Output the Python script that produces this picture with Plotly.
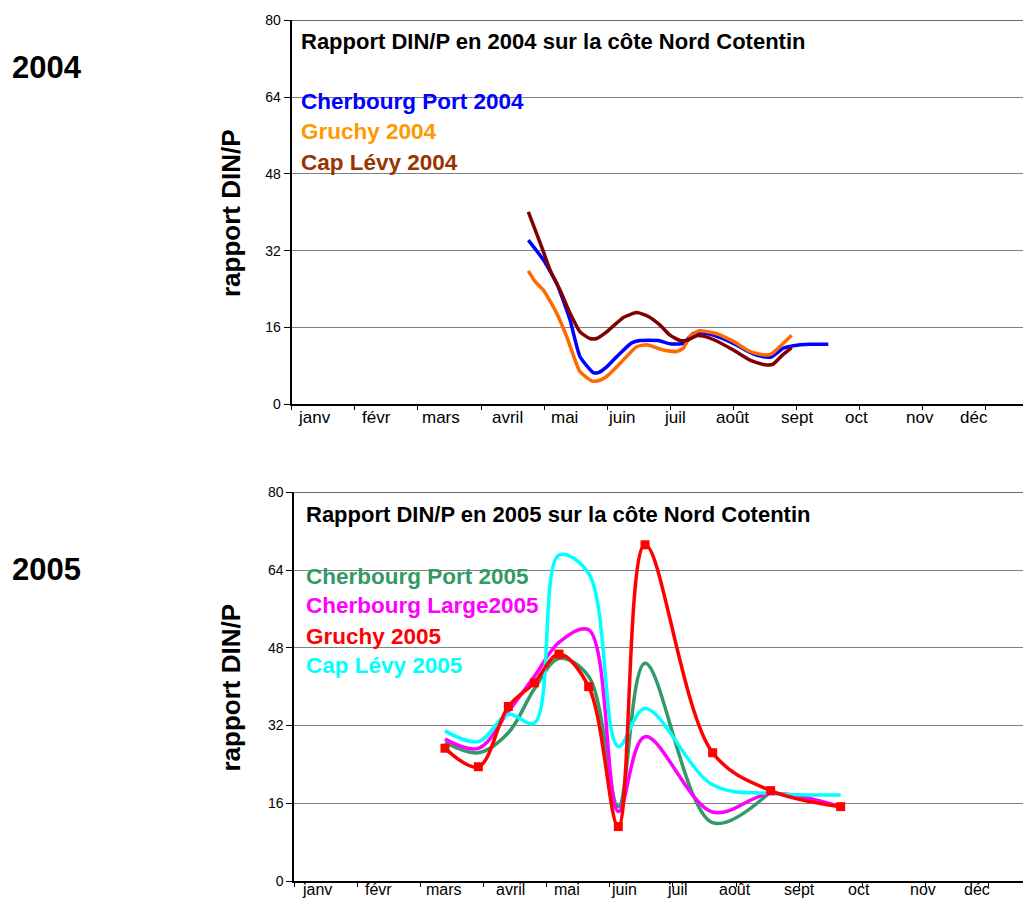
import plotly.graph_objects as go

# ---------------------------------------------------------------
# Data : x = months elapsed since 1 January (0 = janv, 1 = févr ...)
# ---------------------------------------------------------------
months = ["janv", "févr", "mars", "avril", "mai", "juin",
          "juil", "août", "sept", "oct", "nov", "déc"]
y_ticks = [0, 16, 32, 48, 64, 80]

# 2004
port04_x = [3.750, 3.988, 4.199, 4.410, 4.569, 4.780, 4.859, 4.992, 5.203, 5.388,
            5.520, 5.810, 5.995, 6.207, 6.365, 6.497, 6.682, 6.999, 7.263, 7.474,
            7.606, 7.791, 7.950, 8.214, 8.504]
port04_y = [34.2, 30.1, 25.2, 17.6, 9.9, 6.6, 6.6, 7.8, 10.6, 12.8,
            13.3, 13.3, 12.6, 12.7, 14.8, 14.9, 14.4, 12.7, 10.8, 9.9,
            9.9, 11.7, 12.2, 12.5, 12.5]

gruchy04_x = [3.750, 3.856, 3.988, 4.199, 4.358, 4.569, 4.754, 4.859, 4.992, 5.203,
              5.467, 5.625, 5.890, 6.101, 6.207, 6.312, 6.444, 6.735, 6.999, 7.263,
              7.474, 7.606, 7.765, 7.923]
gruchy04_y = [27.8, 25.6, 23.8, 19.0, 14.1, 6.8, 4.9, 4.9, 5.8, 8.5,
              12.0, 12.4, 11.3, 11.0, 11.7, 14.1, 15.3, 14.7, 13.1, 11.0,
              10.3, 10.5, 12.4, 14.4]

levy04_x = [3.750, 3.961, 4.094, 4.252, 4.410, 4.569, 4.727, 4.833, 4.992, 5.256,
            5.467, 5.652, 5.837, 5.995, 6.154, 6.259, 6.418, 6.523, 6.682, 6.999,
            7.263, 7.474, 7.622, 7.765, 7.923]
levy04_y = [40.1, 32.8, 28.0, 23.8, 19.0, 15.1, 13.7, 13.7, 15.1, 18.1,
            19.1, 18.3, 16.5, 14.4, 13.3, 13.3, 14.3, 14.2, 13.5, 11.3,
            9.2, 8.3, 8.3, 10.1, 11.8]

# 2005 : common sampling dates
dates05 = [2.388, 2.917, 3.392, 3.804, 4.195, 4.665, 5.135, 5.558, 6.630, 7.549, 8.659]
port05 = [28.5, 26.4, 30.5, 39.5, 45.8, 42.1, 15.3, 44.8, 12.0, 18.4]
large05 = [29.2, 27.3, 34.9, 42.1, 49.1, 51.7, 14.3, 29.7, 14.2, 18.0, 15.3]
gruchy05 = [27.3, 23.5, 35.9, 40.8, 46.7, 40.0, 11.2, 69.2, 26.4, 18.6, 15.3]
levy05 = [30.9, 28.7, 34.3, 32.5, 67.1, 63.3, 27.7, 35.5, 19.8, 18.0, 17.7]

W, H = 1023, 899
FONT = "Liberation Sans, Arial, sans-serif"


def px_x(p):
    return p / W


def px_y(p):
    return (H - p) / H


fig = go.Figure()

line_w = 3.5
fig.add_trace(go.Scatter(x=port04_x, y=port04_y, mode="lines", xaxis="x", yaxis="y",
                         line=dict(color="#0000FF", width=line_w, shape="spline", smoothing=0.5)))
fig.add_trace(go.Scatter(x=gruchy04_x, y=gruchy04_y, mode="lines", xaxis="x", yaxis="y",
                         line=dict(color="#FF6A00", width=line_w, shape="spline", smoothing=0.5)))
fig.add_trace(go.Scatter(x=levy04_x, y=levy04_y, mode="lines", xaxis="x", yaxis="y",
                         line=dict(color="#800000", width=line_w, shape="spline", smoothing=0.5)))

fig.add_trace(go.Scatter(x=dates05[:len(port05)], y=port05, mode="lines", xaxis="x2", yaxis="y2",
                         line=dict(color="#339966", width=line_w, shape="spline", smoothing=1)))
fig.add_trace(go.Scatter(x=dates05, y=large05, mode="lines", xaxis="x2", yaxis="y2",
                         line=dict(color="#FF00FF", width=line_w, shape="spline", smoothing=1)))
fig.add_trace(go.Scatter(x=dates05, y=levy05, mode="lines", xaxis="x2", yaxis="y2",
                         line=dict(color="#00FFFF", width=line_w, shape="spline", smoothing=1)))
fig.add_trace(go.Scatter(x=dates05, y=gruchy05, mode="lines+markers", xaxis="x2", yaxis="y2",
                         line=dict(color="#FF0000", width=line_w, shape="spline", smoothing=1),
                         marker=dict(symbol="square", size=9, color="#FF0000")))

# Axis geometry (pixels)
top_left, top_bottom, top_top = 291.7, 404.3, 20.3
bot_left, bot_bottom, bot_top = 294.3, 881.0, 492.3
month_px = 63.1

common_x = dict(showgrid=False, zeroline=False, showline=True, linecolor="black", linewidth=2,
                ticks="outside", ticklen=4, tickcolor="black", tickwidth=1,
                tickvals=list(range(12)), showticklabels=False, automargin=False)
common_y = dict(range=[0, 80], tickvals=y_ticks, showgrid=True, gridcolor="#808080", gridwidth=1,
                zeroline=False, showline=True, linecolor="black", linewidth=2,
                ticks="outside", ticklen=6, tickcolor="black", tickwidth=1, automargin=False,
                tickfont=dict(family=FONT, size=14, color="black"))

fig.update_layout(
    width=W, height=H, margin=dict(l=0, r=0, t=0, b=0, autoexpand=False),
    paper_bgcolor="white", plot_bgcolor="white", showlegend=False,
    xaxis=dict(domain=[px_x(top_left), 1], range=[0, (W - top_left) / month_px],
               anchor="y", **common_x),
    yaxis=dict(domain=[px_y(top_bottom), px_y(top_top)], anchor="x", **common_y),
    xaxis2=dict(domain=[px_x(bot_left), 1], range=[0, (W - bot_left) / month_px],
                anchor="y2", **common_x),
    yaxis2=dict(domain=[px_y(bot_bottom), px_y(bot_top)], anchor="x2", **common_y),
)

# thin frame line along the top of each plot area
for xr, yr in (("x domain", "y"), ("x2 domain", "y2")):
    fig.add_shape(type="line", xref=xr, yref=yr, x0=0, x1=1, y0=80, y1=80,
                  line=dict(color="black", width=1))

annotations = []

# month labels under both axes (centres, in months)
label_pos = [0.36, 1.34, 2.37, 3.42, 4.32, 5.23, 6.08, 6.99, 8.00, 8.95, 9.96, 10.82]
for xr, ypix, fsize in (("x", 417, 17), ("x2", 889.5, 16)):
    for name, pos in zip(months, label_pos):
        annotations.append(dict(x=pos, y=px_y(ypix), xref=xr, yref="paper", text=name,
                                showarrow=False, xanchor="center", yanchor="middle",
                                font=dict(family=FONT, size=fsize, color="black")))

# year labels
for txt, ypix in (("2004", 68), ("2005", 569)):
    annotations.append(dict(x=px_x(10), y=px_y(ypix), xref="paper", yref="paper",
                            text="<b>%s</b>" % txt, showarrow=False,
                            xanchor="left", yanchor="middle",
                            font=dict(family=FONT, size=31, color="black")))

# y-axis titles
for ypix in (213.5, 688):
    annotations.append(dict(x=px_x(230.5), y=px_y(ypix), xref="paper", yref="paper",
                            text="<b>rapport DIN/P</b>", textangle=-90, showarrow=False,
                            xanchor="center", yanchor="middle",
                            font=dict(family=FONT, size=26, color="black")))

# chart titles and series captions
blocks = [
    (299.3, [(41.7, "Rapport DIN/P en 2004 sur la côte Nord Cotentin", "black", 22),
             (101.7, "Cherbourg Port 2004", "#0000FF", 22.5),
             (131.7, "Gruchy 2004", "#FF9900", 22.5),
             (162.3, "Cap Lévy 2004", "#993300", 22.5)]),
    (304.0, [(515.0, "Rapport DIN/P en 2005 sur la côte Nord Cotentin", "black", 22),
             (576.0, "Cherbourg Port 2005", "#339966", 22.5),
             (605.3, "Cherbourg Large2005", "#FF00FF", 22.5),
             (636.0, "Gruchy 2005", "#FF0000", 22.5),
             (665.0, "Cap Lévy 2005", "#00FFFF", 22.5)]),
]
for xpix, rows in blocks:
    for ypix, txt, col, size in rows:
        annotations.append(dict(x=px_x(xpix), y=px_y(ypix), xref="paper", yref="paper",
                                text="<b>%s</b>" % txt, showarrow=False,
                                xanchor="left", yanchor="middle",
                                font=dict(family=FONT, size=size, color=col)))

fig.update_layout(annotations=annotations)

fig.write_html("out.html")
